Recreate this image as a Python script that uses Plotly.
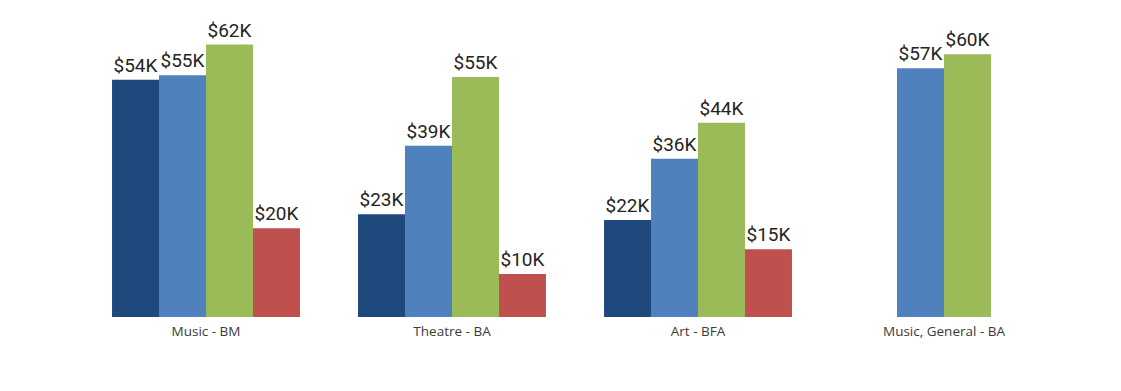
import plotly.graph_objects as go

categories = ["Music - BM", "Theatre - BA", "Art - BFA", "Music, General - BA"]
series_names = ["Series 1", "Series 2", "Series 3", "Series 4"]
series_values = [
    [54.0, 23.4, 22.1, None],
    [55.0, 39.0, 36.0, 56.6],
    [62.0, 54.6, 44.2, 59.8],
    [20.2, 9.8, 15.4, None],
]
colors = ["#1F497D", "#4F81BD", "#9BBB59", "#C0504D"]

fig = go.Figure()
for name, vals, col in zip(series_names, series_values, colors):
    fig.add_trace(go.Bar(
        x=categories, y=vals, name=name,
        marker=dict(color=col, line=dict(width=0)),
        texttemplate="$%{y:.0f}K", textposition="outside",
        constraintext="none", cliponaxis=False,
        textfont=dict(family="Roboto", size=19, color="#252423"),
    ))

fig.update_layout(
    width=1121, height=391,
    barmode="group", bargap=0.236, bargroupgap=0,
    margin=dict(l=75, r=62, t=12, b=82),
    paper_bgcolor="white", plot_bgcolor="white",
    showlegend=False,
    xaxis=dict(showgrid=False, showline=False, ticks="", ticklabelstandoff=4,
               tickfont=dict(family="Open Sans", size=13.5, color="#3a3a3a")),
    yaxis=dict(range=[0, 67.6], visible=False, showgrid=False, zeroline=False),
)
fig.write_html("out.html")
